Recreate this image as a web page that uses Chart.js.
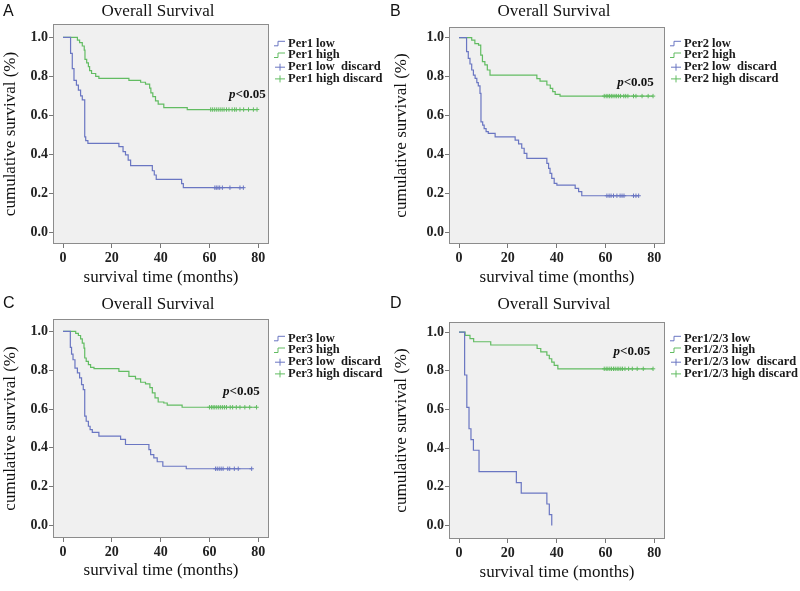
<!DOCTYPE html>
<html>
<head>
<meta charset="utf-8">
<script src="https://cdn.jsdelivr.net/npm/chart.js@4.4.0/dist/chart.umd.min.js"></script>
<style>
  body { margin: 0; background: #fff; width: 800px; height: 591px; position: relative; overflow: hidden; }
  .panel { position: absolute; }
</style>
</head>
<body>
<div class="panel" style="left:0;top:0"><canvas id="chartA" width="400" height="295"></canvas></div>
<div class="panel" style="left:388px;top:0"><canvas id="chartB" width="412" height="295"></canvas></div>
<div class="panel" style="left:0;top:295px"><canvas id="chartC" width="400" height="296"></canvas></div>
<div class="panel" style="left:388px;top:295px"><canvas id="chartD" width="412" height="296"></canvas></div>
<script>
// axis ticks
const monthTicks = [0, 20, 40, 60, 80];
const survivalTicks = [0, 0.2, 0.4, 0.6, 0.8, 1.0];

// A - Per1
const per1LowTime = [0, 3.1, 3.8, 4.5, 5.5, 6.3, 7.2, 7.9, 8.9, 9.3, 10.2, 22.9, 24.6, 25.6, 26.7, 27.7, 36.6, 37.4, 38.2, 48.6, 49.3, 73.9];
const per1LowSurv = [1, 0.918, 0.84, 0.78, 0.755, 0.73, 0.70, 0.68, 0.49, 0.47, 0.456, 0.44, 0.414, 0.397, 0.37, 0.342, 0.316, 0.294, 0.272, 0.25, 0.229, 0.229];
const per1LowCensor = [62.2, 62.8, 63.5, 64.2, 65.3, 68.4, 72.5, 73.9];
const per1HighTime = [0, 5.9, 6.8, 7.9, 8.7, 9.0, 9.7, 10.4, 10.9, 11.7, 13.4, 14.7, 27.0, 31.8, 33.8, 35.5, 36.0, 36.8, 37.9, 39.0, 41.3, 50.9, 79.5];
const per1HighSurv = [1, 0.986, 0.973, 0.956, 0.935, 0.887, 0.87, 0.85, 0.83, 0.815, 0.80, 0.79, 0.78, 0.77, 0.76, 0.74, 0.716, 0.696, 0.675, 0.658, 0.64, 0.63, 0.63];
const per1HighCensor = [60.5, 61.2, 62, 62.8, 63.6, 64.4, 65.2, 66, 67, 68, 69.3, 70.3, 71, 72.5, 74, 76, 78, 79.5];

// B - Per2
const per2LowTime = [0, 3.1, 3.8, 4.5, 5.2, 5.9, 6.6, 7.3, 7.9, 8.6, 9.0, 9.7, 10.3, 11.1, 12.0, 14.8, 23.0, 24.4, 25.7, 26.7, 27.8, 36.0, 36.7, 37.3, 38.0, 39.0, 40.1, 47.6, 49.0, 50.3, 73.6];
const per2LowSurv = [1, 0.928, 0.894, 0.865, 0.834, 0.808, 0.791, 0.769, 0.752, 0.714, 0.568, 0.551, 0.533, 0.517, 0.508, 0.49, 0.474, 0.454, 0.432, 0.406, 0.38, 0.354, 0.329, 0.303, 0.277, 0.252, 0.243, 0.226, 0.209, 0.188, 0.188];
const per2LowCensor = [60.6, 61.5, 62.3, 63.3, 64.7, 66.0, 66.8, 67.6, 71.5, 72.5, 73.6];
const per2HighTime = [0, 5.2, 6.5, 8.0, 8.9, 9.6, 10.6, 11.6, 12.7, 31.9, 33.2, 36.0, 37.4, 38.4, 39.4, 41.4, 79.5];
const per2HighSurv = [1, 0.988, 0.97, 0.962, 0.91, 0.877, 0.86, 0.834, 0.808, 0.79, 0.777, 0.757, 0.74, 0.723, 0.709, 0.70, 0.70];
const per2HighCensor = [59.5, 60.3, 61, 61.7, 62.4, 63.1, 63.9, 64.6, 65.4, 66.2, 67.5, 68.3, 69.2, 71.5, 72.5, 75, 77.5, 79.5];

// C - Per3
const per3LowTime = [0, 3.0, 3.5, 4.1, 4.9, 5.9, 6.8, 7.6, 8.3, 8.9, 9.5, 10.4, 11.1, 12.0, 14.7, 23.6, 25.6, 35.2, 35.9, 37.2, 38.6, 40.9, 50.5, 77.3];
const per3LowSurv = [1, 0.918, 0.883, 0.854, 0.811, 0.786, 0.76, 0.726, 0.70, 0.563, 0.537, 0.511, 0.494, 0.48, 0.46, 0.443, 0.417, 0.391, 0.365, 0.348, 0.328, 0.305, 0.292, 0.292];
const per3LowCensor = [62.5, 63.2, 64, 64.8, 65.6, 67.5, 68.3, 70.2, 71.8, 77.3];
const per3HighTime = [0, 5.2, 6.3, 7.2, 7.9, 8.6, 8.9, 9.5, 10.4, 11.3, 12.7, 22.9, 27.0, 29.7, 31.8, 33.8, 35.6, 36.6, 37.7, 39.0, 41.3, 42.7, 48.8, 79.3];
const per3HighSurv = [1, 0.99, 0.979, 0.962, 0.94, 0.914, 0.863, 0.846, 0.829, 0.815, 0.808, 0.794, 0.768, 0.755, 0.738, 0.73, 0.71, 0.683, 0.657, 0.636, 0.631, 0.62, 0.609, 0.609];
const per3HighCensor = [60, 60.8, 61.5, 62.2, 63, 63.8, 64.6, 65.4, 66.2, 67, 68.5, 69.5, 71, 72.5, 74.5, 76.5, 79.3];

// D - Per1/2/3
const perAllLowTime = [0, 2.3, 3.2, 4.1, 4.9, 5.9, 8.2, 23.5, 25.5, 36.0, 37.0, 38.0];
const perAllLowSurv = [1, 0.778, 0.611, 0.5, 0.444, 0.389, 0.278, 0.222, 0.167, 0.111, 0.056, 0];
const perAllLowCensor = [];
const perAllHighTime = [0, 2.5, 4.5, 6.0, 13.0, 32.0, 33.5, 36.0, 37.0, 38.0, 39.0, 40.5, 79.5];
const perAllHighSurv = [1, 0.983, 0.966, 0.95, 0.933, 0.915, 0.898, 0.88, 0.862, 0.845, 0.828, 0.81, 0.81];
const perAllHighCensor = [59.5, 60.3, 61, 61.8, 62.5, 63.3, 64, 64.8, 65.5, 66.3, 67, 68, 69.5, 71, 73, 75.5, 79.5];

const LOW_COLOR = 'rgb(106,118,194)';
const HIGH_COLOR = 'rgb(98,188,98)';
const SERIF = '"Liberation Serif", "Times New Roman", serif';

function survivalAt(times, surv, t) {
  let s = surv[0];
  for (let i = 0; i < times.length; i++) {
    if (times[i] <= t) s = surv[i];
  }
  return s;
}

function curve(times, surv, color) {
  return {
    type: 'line',
    data: times.map((t, i) => ({ x: t, y: surv[i] })),
    borderColor: color,
    borderWidth: 1.2,
    stepped: 'before',
    pointRadius: 0,
    fill: false
  };
}

function censorMarks(censor, times, surv, color) {
  return {
    type: 'line',
    data: censor.map(t => ({ x: t, y: survivalAt(times, surv, t) })),
    showLine: false,
    borderColor: color,
    backgroundColor: color,
    borderWidth: 1,
    pointStyle: 'cross',
    pointRadius: 2.2
  };
}

// background, frame, title, legend and p-value
const panelDecor = {
  id: 'panelDecor',
  beforeDraw(chart) {
    const { ctx, chartArea: a } = chart;
    ctx.save();
    ctx.fillStyle = '#f0f0f0';
    ctx.fillRect(a.left, a.top, a.right - a.left, a.bottom - a.top);
    ctx.restore();
  },
  afterDraw(chart, args, o) {
    const { ctx, chartArea: a, scales } = chart;
    ctx.save();
    ctx.strokeStyle = '#8c8c8c';
    ctx.lineWidth = 1;
    ctx.strokeRect(a.left + 0.5, a.top + 0.5, a.right - a.left - 1, a.bottom - a.top - 1);

    ctx.fillStyle = '#111';
    ctx.textBaseline = 'middle';
    ctx.textAlign = 'center';
    ctx.font = '17px ' + SERIF;
    ctx.fillText('Overall Survival', (a.left + a.right) / 2 - 3, o.titleY);

    ctx.textAlign = 'left';
    ctx.font = '16px "Liberation Sans", Arial, sans-serif';
    ctx.fillText(o.letter, o.letterX, o.letterY);

    // legend
    const names = [o.gene + ' low', o.gene + ' high', o.gene + ' low  discard', o.gene + ' high discard'];
    const colors = [LOW_COLOR, HIGH_COLOR, LOW_COLOR, HIGH_COLOR];
    names.forEach((name, i) => {
      const y = 43.3 + 11.7 * i;
      const x0 = a.right + 5;
      ctx.strokeStyle = colors[i];
      ctx.lineWidth = 1;
      ctx.beginPath();
      if (i < 2) {
        ctx.moveTo(x0, y + 2.5);
        ctx.lineTo(x0 + 4, y + 2.5);
        ctx.lineTo(x0 + 4, y - 2);
        ctx.lineTo(x0 + 11, y - 2);
      } else {
        ctx.moveTo(x0 + 1, y + 0.5);
        ctx.lineTo(x0 + 11, y + 0.5);
        ctx.moveTo(x0 + 6, y - 3);
        ctx.lineTo(x0 + 6, y + 4);
      }
      ctx.stroke();
      ctx.fillStyle = '#1a1a1a';
      ctx.font = 'bold 12.5px ' + SERIF;
      ctx.fillText(name, a.right + 19, y);
    });

    // p value
    const px = scales.x.getPixelForValue(o.pAt[0]);
    const py = scales.y.getPixelForValue(o.pAt[1]);
    ctx.fillStyle = '#111';
    ctx.font = 'italic bold 13px ' + SERIF;
    ctx.fillText('p', px, py);
    const w = ctx.measureText('p').width;
    ctx.font = 'bold 13px ' + SERIF;
    ctx.fillText('<0.05', px + w, py);
    ctx.restore();
  }
};

function makePanel(p) {
  const canvas = document.getElementById(p.id);
  const H = canvas.height;
  const tickFont = { family: SERIF, size: 14, weight: 'bold' };
  const titleFont = { family: SERIF, size: 17 };
  new Chart(canvas, {
    data: {
      datasets: [
        curve(p.lowTime, p.lowSurv, LOW_COLOR),
        curve(p.highTime, p.highSurv, HIGH_COLOR),
        censorMarks(p.lowCensor, p.lowTime, p.lowSurv, LOW_COLOR),
        censorMarks(p.highCensor, p.highTime, p.highSurv, HIGH_COLOR)
      ]
    },
    options: {
      responsive: false,
      animation: false,
      layout: { padding: { left: 0, top: p.top, right: canvas.width - p.right, bottom: 0 } },
      plugins: {
        legend: { display: false },
        tooltip: { enabled: false },
        panelDecor: p
      },
      scales: {
        x: {
          type: 'linear',
          min: -4.1,
          max: 84.4,
          afterBuildTicks: s => { s.ticks = monthTicks.map(v => ({ value: v })); },
          afterFit: s => { s.height = H - p.bottom; },
          grid: { drawOnChartArea: false, tickLength: 4, color: '#777' },
          border: { display: false },
          ticks: { color: '#222', font: tickFont, padding: 2, maxRotation: 0, callback: v => String(v) },
          title: { display: true, text: 'survival time (months)', color: '#111', font: titleFont, padding: { top: 0, bottom: p.xTitlePad } }
        },
        y: {
          type: 'linear',
          min: p.yMin,
          max: p.yMax,
          afterBuildTicks: s => { s.ticks = survivalTicks.map(v => ({ value: v })); },
          afterFit: s => { s.width = p.left; },
          grid: { drawOnChartArea: false, tickLength: 4, color: '#777' },
          border: { display: false },
          ticks: { color: '#222', font: tickFont, padding: 1, callback: v => Number(v).toFixed(1) },
          title: { display: true, text: 'cumulative survival (%)', color: '#111', font: titleFont, padding: { top: p.yTitlePad, bottom: 0 } }
        }
      }
    },
    plugins: [panelDecor]
  });
}

makePanel({ id: 'chartA', letter: 'A', gene: 'Per1', letterX: 3, letterY: 12, titleY: 12,
  left: 53, right: 269, top: 24, bottom: 244, yMin: -0.06, yMax: 1.069, xTitlePad: 7, yTitlePad: 0,
  pAt: [68, 0.705],
  lowTime: per1LowTime, lowSurv: per1LowSurv, lowCensor: per1LowCensor,
  highTime: per1HighTime, highSurv: per1HighSurv, highCensor: per1HighCensor });

makePanel({ id: 'chartB', letter: 'B', gene: 'Per2', letterX: 2, letterY: 12, titleY: 12,
  left: 61, right: 277, top: 27, bottom: 244, yMin: -0.06, yMax: 1.055, xTitlePad: 7, yTitlePad: 3,
  pAt: [64.8, 0.77],
  lowTime: per2LowTime, lowSurv: per2LowSurv, lowCensor: per2LowCensor,
  highTime: per2HighTime, highSurv: per2HighSurv, highCensor: per2HighCensor });

makePanel({ id: 'chartC', letter: 'C', gene: 'Per3', letterX: 3, letterY: 9, titleY: 9.5,
  left: 53, right: 269, top: 24, bottom: 243, yMin: -0.065, yMax: 1.064, xTitlePad: 10, yTitlePad: 0,
  pAt: [65.6, 0.69],
  lowTime: per3LowTime, lowSurv: per3LowSurv, lowCensor: per3LowCensor,
  highTime: per3HighTime, highSurv: per3HighSurv, highCensor: per3HighCensor });

makePanel({ id: 'chartD', letter: 'D', gene: 'Per1/2/3', letterX: 2, letterY: 9, titleY: 9.5,
  left: 61, right: 277, top: 27, bottom: 244, yMin: -0.07, yMax: 1.052, xTitlePad: 8, yTitlePad: 3,
  pAt: [63.3, 0.90],
  lowTime: perAllLowTime, lowSurv: perAllLowSurv, lowCensor: perAllLowCensor,
  highTime: perAllHighTime, highSurv: perAllHighSurv, highCensor: perAllHighCensor });
</script>
</body>
</html>
